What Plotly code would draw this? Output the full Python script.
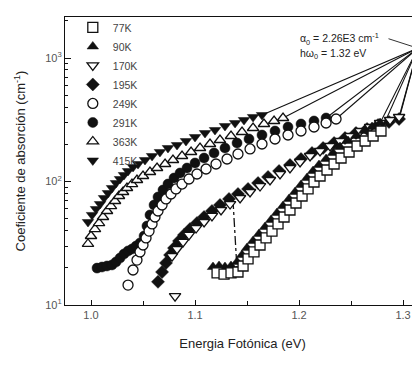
import plotly.graph_objects as go

# ---------------- data ----------------
E_415 = [0.9971, 1.0010, 1.0048, 1.0087, 1.0125, 1.0163, 1.0202, 1.0240, 1.0279, 1.0317,
         1.0356, 1.0404, 1.0452, 1.0519, 1.0587, 1.0663, 1.0740, 1.0827, 1.0913, 1.1000,
         1.1096, 1.1192, 1.1288, 1.1385, 1.1471, 1.1558, 1.1644]
A_415 = [47.0, 53.6, 59.9, 65.7, 73.5, 80.7, 88.6, 97.2, 104.8, 112.9,
         121.6, 131.1, 138.6, 149.3, 160.9, 173.4, 186.8, 197.5, 212.8, 229.3,
         247.0, 261.2, 281.5, 297.7, 314.8, 333.0, 345.6]

E_363 = [0.9971, 1.0000, 1.0038, 1.0077, 1.0115, 1.0154, 1.0192, 1.0231, 1.0269, 1.0308,
         1.0346, 1.0394, 1.0442, 1.0500, 1.0567, 1.0635, 1.0712, 1.0788, 1.0875, 1.0962,
         1.1048, 1.1144, 1.1240, 1.1346, 1.1452, 1.1558, 1.1663, 1.1760, 1.1846]
A_363 = [31.2, 36.2, 41.2, 46.1, 51.6, 57.7, 63.3, 69.5, 76.3, 82.2,
         88.6, 95.4, 102.8, 110.8, 119.4, 128.6, 138.6, 149.3, 160.9, 173.4,
         186.8, 201.2, 216.8, 233.6, 251.6, 271.2, 292.2, 309.0, 326.8]

E_291 = [1.0058, 1.0106, 1.0154, 1.0202, 1.0240, 1.0279, 1.0317, 1.0356, 1.0394, 1.0433,
         1.0471, 1.0510, 1.0538, 1.0567, 1.0606, 1.0644, 1.0692, 1.0740, 1.0798, 1.0856,
         1.0923, 1.1000, 1.1087, 1.1183, 1.1288, 1.1404, 1.1519, 1.1644, 1.1769, 1.1894,
         1.2019, 1.2144, 1.2260]
A_291 = [19.9, 20.3, 20.7, 21.1, 22.3, 24.0, 25.9, 27.4, 28.4, 30.0,
         31.8, 36.2, 43.6, 53.6, 64.5, 74.9, 85.4, 95.4, 106.7, 117.2,
         128.6, 141.2, 155.0, 170.2, 186.8, 205.0, 220.9, 237.9, 256.4, 276.3,
         292.2, 309.0, 326.8]

E_249 = [1.0356, 1.0404, 1.0442, 1.0471, 1.0500, 1.0529, 1.0558, 1.0587, 1.0615, 1.0644,
         1.0683, 1.0721, 1.0769, 1.0817, 1.0875, 1.0942, 1.1019, 1.1106, 1.1202, 1.1308,
         1.1413, 1.1529, 1.1644, 1.1769, 1.1894, 1.2019, 1.2144, 1.2260, 1.2356]
A_249 = [14.5, 19.2, 23.1, 26.9, 30.6, 34.9, 39.7, 45.3, 51.6, 57.7,
         64.5, 72.2, 79.2, 87.0, 95.4, 104.8, 115.0, 126.2, 138.6, 152.1,
         167.0, 183.4, 201.2, 220.9, 237.9, 256.4, 276.3, 297.7, 320.7]

E_195 = [1.0644, 1.0683, 1.0721, 1.0760, 1.0798, 1.0846, 1.0894, 1.0952, 1.1019, 1.1087,
         1.1163, 1.1240, 1.1327, 1.1413, 1.1510, 1.1606, 1.1702, 1.1808, 1.1913, 1.2019,
         1.2125, 1.2231, 1.2337, 1.2442, 1.2548, 1.2654, 1.2760, 1.2865, 1.2962]
A_195 = [15.4, 18.5, 21.9, 25.4, 28.9, 33.0, 36.9, 41.2, 46.1, 51.6,
         57.7, 64.5, 72.2, 79.2, 87.0, 97.2, 108.8, 121.6, 136.0, 152.1,
         170.2, 186.8, 205.0, 225.0, 247.0, 266.2, 286.8, 303.3, 320.7]

E_170 = [1.0808, 1.0779, 1.0827, 1.0885, 1.0942, 1.1010, 1.1087, 1.1163, 1.1250, 1.1337,
         1.1433, 1.1529, 1.1625, 1.1721, 1.1817, 1.1913, 1.2010, 1.2106, 1.2202, 1.2298,
         1.2394, 1.2490, 1.2587, 1.2683, 1.2779, 1.2875, 1.2962]
A_170 = [11.8, 24.9, 28.4, 32.4, 36.9, 42.0, 47.0, 52.6, 58.8, 65.7,
         73.5, 82.2, 91.9, 102.8, 115.0, 128.6, 143.8, 160.9, 176.6, 193.9,
         212.8, 233.6, 256.4, 276.3, 297.7, 314.8, 333.0]

E_90 = [1.1173, 1.1231, 1.1288, 1.1346, 1.1404, 1.1452, 1.1500, 1.1558, 1.1615, 1.1673,
        1.1731, 1.1788, 1.1846, 1.1904, 1.1962, 1.2019, 1.2077, 1.2135, 1.2192, 1.2260,
        1.2327, 1.2394, 1.2471, 1.2548, 1.2625, 1.2702, 1.2779]
A_90 = [20.3, 20.7, 20.3, 20.7, 22.3, 25.4, 28.9, 33.0, 37.6, 42.8,
        48.8, 55.6, 63.3, 72.2, 82.2, 93.7, 106.7, 121.6, 136.0, 152.1,
        170.2, 190.3, 212.8, 233.6, 256.4, 276.3, 297.7]

E_77 = [1.1212, 1.1279, 1.1346, 1.1413, 1.1462, 1.1510, 1.1567, 1.1625, 1.1683, 1.1740,
        1.1798, 1.1856, 1.1913, 1.1971, 1.2029, 1.2087, 1.2144, 1.2202, 1.2269, 1.2337,
        1.2404, 1.2481, 1.2558, 1.2635, 1.2712, 1.2788]
A_77 = [18.2, 17.8, 18.2, 18.5, 20.7, 23.6, 26.9, 30.6, 34.9, 39.7,
        45.3, 51.6, 58.8, 67.0, 76.3, 87.0, 99.1, 110.8, 123.9, 138.6,
        155.0, 173.4, 193.9, 212.8, 233.6, 256.4]

# dash-dot connector
E_dash = [1.1365, 1.1404]
A_dash = [70.8, 19.2]

# common (Urbach) convergence point as drawn
E_conv = 1.3144
A_conv = 1205.0

labels = ["77K", "90K", "170K", "195K", "249K", "291K", "363K", "415K"]

x_ticks = [1.0, 1.1, 1.2, 1.3]
x_ticktext = ["1.0", "1.1", "1.2", "1.3"]
y_ticks = [10, 100, 1000]
y_ticktext = ["10<sup>1</sup>", "10<sup>2</sup>", "10<sup>3</sup>"]

# ---------------- figure ----------------
INK = "#111111"
series = [
    # (label, E, A, symbol, filled, rank)
    ("415K", E_415, A_415, "triangle-down", True, 8),
    ("363K", E_363, A_363, "triangle-up", False, 7),
    ("291K", E_291, A_291, "circle", True, 6),
    ("249K", E_249, A_249, "circle", False, 5),
    ("195K", E_195, A_195, "diamond", True, 4),
    ("170K", E_170, A_170, "triangle-down", False, 3),
    ("90K", E_90, A_90, "triangle-up", True, 2),
    ("77K", E_77, A_77, "square", False, 1),
]

fig = go.Figure()

# fan lines to the convergence point
for lab, E, A, sym, filled, rank in series:
    fig.add_trace(go.Scatter(
        x=[E[-1], E_conv], y=[A[-1], A_conv], mode="lines",
        line=dict(color=INK, width=1.1), showlegend=False, hoverinfo="skip"))

fig.add_trace(go.Scatter(
    x=E_dash, y=A_dash, mode="lines",
    line=dict(color=INK, width=1.3, dash="dashdot"), showlegend=False))

for lab, E, A, sym, filled, rank in series:
    if filled:
        mk = dict(symbol=sym, size=10, color=INK, line=dict(color=INK, width=0.5))
    else:
        mk = dict(symbol=sym, size=10, color="white", line=dict(color=INK, width=1.3))
    fig.add_trace(go.Scatter(x=E, y=A, mode="markers", name=lab, marker=mk,
                             legendrank=rank))

fig.add_annotation(
    x=0.657, y=0.924, xref="paper", yref="paper", xanchor="left", yanchor="middle",
    text="α<sub>0</sub> = 2.26E3 cm<sup>-1</sup>", showarrow=False,
    font=dict(family="Liberation Sans, Arial, sans-serif", size=10.5, color="#222222"))
fig.add_annotation(
    x=0.657, y=0.873, xref="paper", yref="paper", xanchor="left", yanchor="middle",
    text="hω<sub>0</sub> = 1.32 eV", showarrow=False,
    font=dict(family="Liberation Sans, Arial, sans-serif", size=10.5, color="#222222"))
fig.add_annotation(
    x=E_conv, y=3.079, xref="x", yref="y", text="", showarrow=True,
    ax=-31, ay=-10, arrowhead=2, arrowsize=0.8, arrowwidth=1, arrowcolor="#333333")

# the page body adds an 8 px offset, so the figure is 8 px smaller on each axis
fig.update_layout(
    width=412, height=359,
    margin=dict(l=57, r=0, t=9, b=62, autoexpand=False),
    paper_bgcolor="white", plot_bgcolor="white",
    font=dict(family="Liberation Sans, Arial, sans-serif", size=11, color="#333333"),
    showlegend=True,
    legend=dict(x=0.022, y=1.014, xanchor="left", yanchor="top",
                bgcolor="rgba(0,0,0,0)", font=dict(size=10.5, color="#444444"),
                traceorder="normal"),
    xaxis=dict(
        automargin=False,
        range=[0.975, 1.3163], tickvals=x_ticks, ticktext=x_ticktext,
        ticks="inside", ticklen=5, tickcolor=INK, showgrid=False, zeroline=False,
        showline=True, linecolor=INK, linewidth=1.2, mirror=True,
        minor=dict(dtick=0.05, tick0=1.0, ticks="inside", ticklen=4, tickcolor=INK),
        title=dict(text="Energia Fotónica (eV)", standoff=18,
                   font=dict(size=13, color="#222222")),
        tickfont=dict(size=11, color="#555555")),
    yaxis=dict(
        automargin=False,
        type="log", range=[1.0, 3.332], tickvals=y_ticks, ticktext=y_ticktext,
        ticks="inside", ticklen=6, tickcolor=INK, showgrid=False, zeroline=False,
        showline=True, linecolor=INK, linewidth=1.2, mirror=False,
        minor=dict(tickvals=[20, 30, 40, 50, 60, 70, 80, 90,
                             200, 300, 400, 500, 600, 700, 800, 900, 2000],
                   ticks="inside", ticklen=3, tickcolor=INK),
        title=dict(text="Coeficiente de absorción (cm<sup>-1</sup>)", standoff=16,
                   font=dict(size=13, color="#222222")),
        tickfont=dict(size=11, color="#555555")),
)

fig.write_html("out.html")
